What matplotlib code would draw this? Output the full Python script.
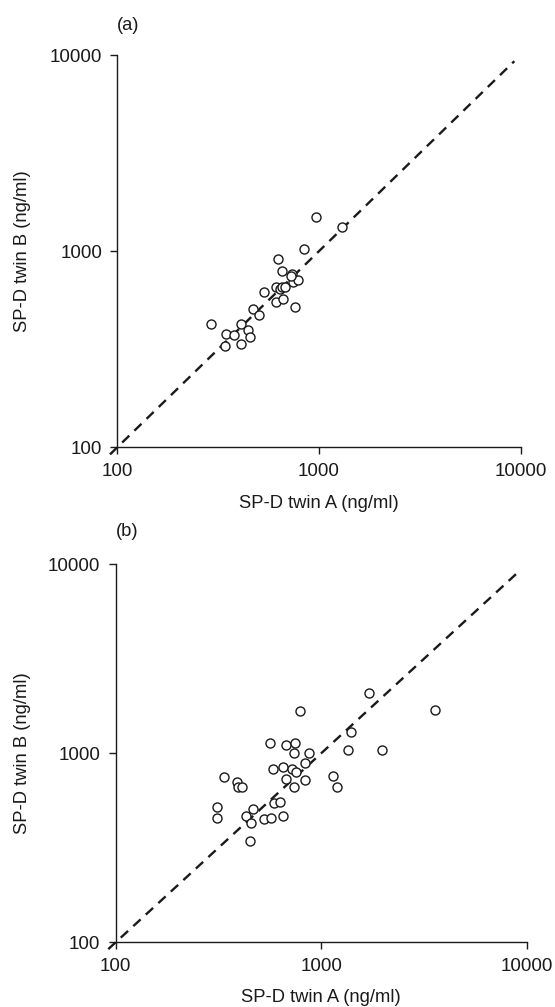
import matplotlib
matplotlib.use("Agg")
import matplotlib.pyplot as plt
import numpy as np

plt.rcParams['font.family'] = ['Liberation Sans', 'DejaVu Sans']

# Panel (a) data
a_twinA = [290, 346, 378, 341, 410, 447, 455, 410, 469, 502, 536, 610, 610, 626, 653,
           643, 654, 681, 665, 731, 746, 787, 764, 843, 966, 1300, 725]
a_twinB = [424, 380, 372, 330, 424, 394, 367, 335, 507, 473, 617, 659, 553, 912, 793,
           638, 659, 659, 573, 762, 700, 709, 518, 1030, 1500, 1322, 745]

# Panel (b) data
b_twinA = [312, 312, 336, 388, 393, 410, 431, 454, 452, 468, 525, 572, 589, 632, 655,
           564, 581, 652, 674, 748, 735, 725, 755, 674, 735, 832, 832, 873, 786,
           1142, 1200, 1346, 1396, 1702, 1986, 3564]
b_twinB = [518, 457, 750, 708, 667, 664, 468, 426, 342, 507, 450, 457, 548, 551, 466,
           1135, 829, 843, 1107, 1135, 1000, 829, 793, 735, 664, 885, 720, 1000, 1675,
           762, 661, 1042, 1303, 2094, 1038, 1694]

ticks = [100, 1000, 10000]
tick_labels = ["100", "1000", "10000"]
line_of_identity = [92, 9300]

W, H = 555, 1007
fig = plt.figure(figsize=(W / 100, H / 100), dpi=100)

txt_color = '#1a1a1a'
fs = 13.2
tfs = 13.6

def make_panel(rect, xs, ys, ylab_x, xlab_y):
    ax = fig.add_axes(rect)
    ax.set_xscale('log')
    ax.set_yscale('log')
    ax.set_xlim(100, 10000)
    ax.set_ylim(100, 10000)
    ax.plot(line_of_identity, line_of_identity, color='#1a1a1a', lw=1.7,
            linestyle=(0, (4.2, 3.0)), clip_on=False, zorder=2)
    ax.plot(xs, ys, linestyle='none', marker='o', markersize=6.5,
            markerfacecolor='white', markeredgecolor='#1a1a1a', markeredgewidth=1.0,
            zorder=3, clip_on=False)
    for s in ['top', 'right']:
        ax.spines[s].set_visible(False)
    for s in ['left', 'bottom']:
        ax.spines[s].set_linewidth(1.0)
        ax.spines[s].set_color('#1a1a1a')
    ax.set_xticks(ticks)
    ax.set_xticklabels(tick_labels)
    ax.set_yticks(ticks)
    ax.set_yticklabels(tick_labels)
    ax.minorticks_off()
    ax.tick_params(axis='both', which='major', direction='out', length=5, width=1.0,
                   color='#1a1a1a', labelsize=tfs, labelcolor=txt_color)
    ax.tick_params(axis='x', pad=6)
    ax.tick_params(axis='y', pad=6)
    ax.set_xlabel('SP-D twin A (ng/ml)', fontsize=fs, color=txt_color)
    ax.set_ylabel('SP-D twin B (ng/ml)', fontsize=fs, color=txt_color)
    ax.xaxis.set_label_coords(0.5, xlab_y)
    ax.yaxis.set_label_coords(ylab_x, 0.5)
    ax.xaxis.label.set_va('center')
    ax.yaxis.label.set_va('center')
    return ax

# Panel (a)
ax1 = make_panel([117.3 / W, 1 - 447.3 / H, 403.4 / W, 392.3 / H],
                 a_twinA, a_twinB, (22 - 117.3) / 403.4, (447.3 - 504) / 392.3)
# Panel (b)
ax2 = make_panel([115.7 / W, 1 - 942.3 / H, 411.0 / W, 378.0 / H],
                 b_twinA, b_twinB, (22 - 115.7) / 411.0, (942.3 - 998) / 378.0)

fig.text(117 / W, 1 - 25 / H, '(a)', fontsize=fs, color=txt_color, ha='left', va='center')
fig.text(116 / W, 1 - 532 / H, '(b)', fontsize=fs, color=txt_color, ha='left', va='center')

fig.savefig('out.png', dpi=100, facecolor='white')
